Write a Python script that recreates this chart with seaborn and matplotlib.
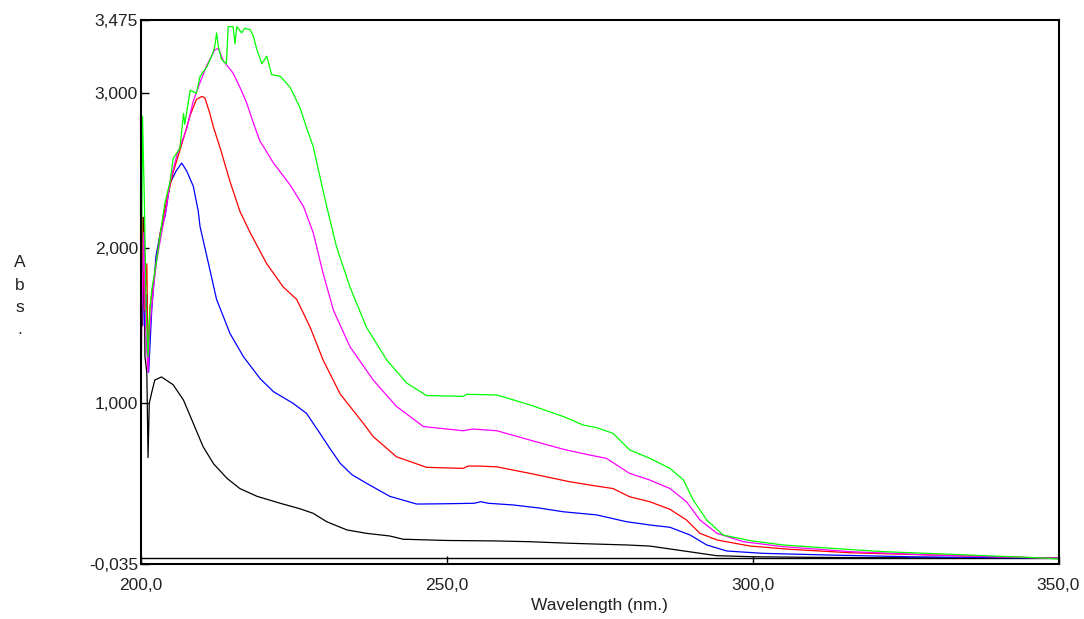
import matplotlib
matplotlib.use("Agg")
import matplotlib.pyplot as plt
import seaborn as sns
from matplotlib.ticker import FixedLocator, FixedFormatter

sns.set_theme(style="white")
plt.rcParams["font.family"] = ["Liberation Sans", "DejaVu Sans"]

# UV absorbance spectra (wavelength in nm, absorbance)
wl_black = [200.0, 200.1, 200.3, 200.5, 200.7, 201.0, 201.2, 201.4, 201.8, 202.3, 203.4, 205.3, 207.0,
            208.6, 210.2, 211.9, 214.1, 216.2, 219.0, 222.8, 226.0, 228.2, 230.4, 233.7, 236.9, 240.7,
            242.9, 250.0, 258.0, 263.6, 270.1, 279.4, 283.2, 287.6, 294.1, 300.0, 310.0, 320.0, 335.0, 350.0]
abs_black = [0.55, 2.30, 1.50, 2.20, 1.30, 1.20, 0.65, 1.00, 1.07, 1.15, 1.17, 1.12, 1.02,
             0.87, 0.72, 0.61, 0.516, 0.45, 0.40, 0.355, 0.32, 0.29, 0.236, 0.183, 0.161, 0.144,
             0.123, 0.115, 0.112, 0.107, 0.097, 0.086, 0.079, 0.054, 0.017, 0.01, 0.006, 0.004, 0.002, 0.0]

wl_blue = [200.0, 200.3, 200.6, 201.0, 201.3, 201.8, 202.5, 203.3, 204.0, 204.8, 205.8, 206.7, 207.5,
           208.6, 209.4, 209.7, 210.8, 212.4, 214.6, 216.8, 219.5, 221.7, 224.9, 227.1, 229.3, 230.9,
           232.6, 234.5, 236.9, 240.7, 245.1, 250.0, 254.5, 255.6, 256.8, 260.9, 265.0, 269.1, 274.5,
           279.4, 283.2, 286.5, 289.8, 292.5, 295.8, 301.7, 312.6, 325.7, 340.0, 350.0]
abs_blue = [1.10, 2.10, 1.50, 1.70, 1.20, 1.60, 1.95, 2.12, 2.21, 2.42, 2.50, 2.55, 2.50,
            2.40, 2.24, 2.14, 1.95, 1.67, 1.45, 1.30, 1.16, 1.075, 1.0, 0.935, 0.806, 0.71,
            0.613, 0.54, 0.484, 0.400, 0.35, 0.352, 0.355, 0.365, 0.355, 0.344, 0.325, 0.30, 0.28,
            0.236, 0.215, 0.20, 0.15, 0.086, 0.047, 0.032, 0.021, 0.01, 0.004, 0.0]

wl_red = [200.0, 200.3, 200.6, 201.0, 201.2, 201.5, 202.3, 203.2, 204.2, 205.3, 207.0, 208.1, 209.1,
          210.0, 210.5, 211.3, 211.9, 213.0, 214.6, 216.2, 217.9, 220.6, 223.3, 225.5, 227.7, 229.8,
          232.6, 234.2, 236.4, 238.0, 241.8, 246.7, 252.7, 253.5, 255.4, 258.2, 263.6, 270.1, 274.5,
          277.2, 279.9, 283.2, 286.5, 289.2, 291.4, 294.2, 299.6, 306.1, 315.9, 329.5, 340.0, 350.0]
abs_red = [1.30, 2.20, 1.60, 1.90, 1.25, 1.62, 1.84, 2.10, 2.30, 2.49, 2.71, 2.86, 2.96,
           2.98, 2.97, 2.87, 2.78, 2.645, 2.43, 2.24, 2.10, 1.90, 1.75, 1.67, 1.49, 1.28,
           1.06, 0.98, 0.87, 0.785, 0.655, 0.587, 0.58, 0.595, 0.595, 0.59, 0.548, 0.494, 0.466,
           0.45, 0.397, 0.365, 0.316, 0.247, 0.161, 0.118, 0.079, 0.058, 0.036, 0.021, 0.01, 0.0]

wl_magenta = [200.0, 200.2, 200.5, 200.8, 201.2, 201.5, 202.1, 202.6, 203.7, 204.2, 204.8, 205.9, 207.5,
              208.6, 209.7, 210.8, 212.1, 212.7, 213.5, 215.1, 216.2, 217.3, 218.4, 219.5, 220.0, 221.7,
              224.4, 226.6, 228.2, 229.8, 231.5, 234.2, 238.0, 241.8, 246.2, 252.7, 254.3, 258.2, 263.6,
              269.1, 273.4, 276.1, 279.9, 283.2, 286.5, 289.2, 291.4, 294.2, 298.5, 305.0, 315.9, 329.5,
              340.0, 350.0]
abs_magenta = [0.87, 1.60, 2.10, 1.50, 1.20, 1.49, 1.75, 1.92, 2.16, 2.26, 2.43, 2.60, 2.77,
               2.95, 3.07, 3.18, 3.28, 3.29, 3.21, 3.13, 3.04, 2.94, 2.81, 2.69, 2.66, 2.55,
               2.41, 2.27, 2.10, 1.84, 1.60, 1.365, 1.15, 0.98, 0.85, 0.823, 0.834, 0.823, 0.763,
               0.703, 0.666, 0.645, 0.548, 0.505, 0.45, 0.365, 0.247, 0.161, 0.107, 0.075, 0.043, 0.021,
               0.01, 0.0]

wl_green = [200.0, 200.1, 200.3, 200.6, 200.9, 201.2, 201.5, 201.8, 202.6, 203.7, 204.0, 204.8, 205.3,
            206.4, 207.0, 207.2, 208.1, 208.6, 209.1, 209.7, 210.8, 211.6, 212.1, 212.4, 212.7, 213.2,
            214.0, 214.3, 215.1, 215.4, 215.7, 216.5, 217.0, 217.9, 218.4, 219.0, 219.8, 220.6, 221.4,
            222.8, 224.4, 226.0, 227.1, 228.2, 229.3, 230.4, 232.0, 234.2, 236.9, 240.2, 243.5, 246.7,
            252.7, 253.3, 258.2, 263.6, 269.1, 272.3, 274.5, 277.2, 279.9, 283.2, 286.5, 288.7, 290.3,
            292.5, 295.2, 299.6, 305.0, 311.5, 321.3, 335.5, 348.6, 350.0]
abs_green = [1.00, 1.70, 2.85, 2.30, 1.60, 1.30, 1.60, 1.73, 1.92, 2.23, 2.30, 2.43, 2.58,
             2.645, 2.87, 2.80, 3.02, 3.01, 3.00, 3.11, 3.17, 3.24, 3.30, 3.39, 3.30, 3.22,
             3.19, 3.43, 3.43, 3.32, 3.43, 3.39, 3.42, 3.41, 3.37, 3.28, 3.19, 3.24, 3.12,
             3.11, 3.04, 2.91, 2.78, 2.655, 2.46, 2.27, 2.01, 1.75, 1.49, 1.28, 1.13, 1.05,
             1.045, 1.058, 1.054, 0.99, 0.914, 0.86, 0.843, 0.806, 0.70, 0.645, 0.58, 0.505, 0.376,
             0.247, 0.15, 0.114, 0.086, 0.068, 0.043, 0.021, 0.0, -0.005]

x_ticks = [200.0, 250.0, 300.0, 350.0]
x_labels = ["200,0", "250,0", "300,0", "350,0"]
y_ticks = [-0.035, 1.0, 2.0, 3.0, 3.475]
y_labels = ["-0,035", "1,000", "2,000", "3,000", "3,475"]

fig = plt.figure(figsize=(10.84, 6.19), dpi=100)
ax = fig.add_axes([0.1298, 0.0893, 0.9765 - 0.1298, 0.9682 - 0.0893])

ax.axhline(0.0, color="black", lw=1.0, zorder=1)

series = [
    (wl_black, abs_black, "#000000"),
    (wl_blue, abs_blue, "#0000FF"),
    (wl_red, abs_red, "#FF0000"),
    (wl_magenta, abs_magenta, "#FF00FF"),
    (wl_green, abs_green, "#00FF00"),
]
for wl, ab, col in series:
    sns.lineplot(x=wl, y=ab, color=col, lw=0.9, sort=False, estimator=None, ax=ax)

ax.set_xlim(200.0, 350.0)
ax.set_ylim(-0.035, 3.475)

ax.xaxis.set_major_locator(FixedLocator(x_ticks))
ax.xaxis.set_major_formatter(FixedFormatter(x_labels))
ax.yaxis.set_major_locator(FixedLocator(y_ticks))
ax.yaxis.set_major_formatter(FixedFormatter(y_labels))

ax.tick_params(axis="both", direction="in", length=6, width=1.0, color="black",
               bottom=True, left=True, labelsize=12.5, labelcolor="#222222")
ax.tick_params(axis="x", pad=10)
ax.tick_params(axis="y", pad=2)

for sp in ax.spines.values():
    sp.set_visible(True)
    sp.set_color("black")
    sp.set_linewidth(1.5)

ax.set_xlabel("Wavelength (nm.)", fontsize=12.5, color="#222222", labelpad=4)
ax.set_ylabel("")

# vertical stacked axis title
for i, ch in enumerate(["A", "b", "s", "."]):
    fig.text(20 / 1084, 1 - (263 + i * 22) / 619, ch, ha="center", va="center",
             fontsize=12.5, color="#222222")

fig.savefig("out.png", dpi=100)
